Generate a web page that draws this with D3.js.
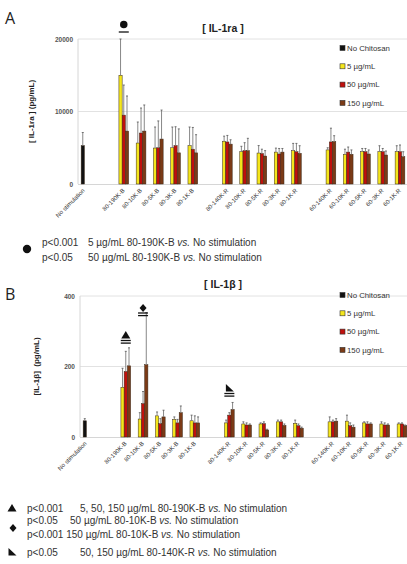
<!DOCTYPE html>
<html>
<head>
<meta charset="utf-8">
<script src="https://cdn.jsdelivr.net/npm/d3@7"></script>
<style>
  body { margin: 0; background: #fff; }
  svg { display: block; font-family: "Liberation Sans", Arial, sans-serif; }
</style>
</head>
<body>
<div id="chart"></div>
<script>
// categories, blanks are the gaps between the treatment blocks
var categories = ['No stimulation', 'gap1',
  '80-190K-B', '80-10K-B', '80-5K-B', '80-3K-B', '80-1K-B', 'gap2',
  '80-140K-R', '80-10K-R', '80-5K-R', '80-3K-R', '80-1K-R', 'gap3',
  '60-140K-R', '60-10K-R', '60-5K-R', '60-3K-R', '60-1K-R'];
var treated = categories.filter(function(c) { return c !== 'No stimulation' && c.indexOf('gap') !== 0; });
var series = ['No Chitosan', '5 µg/mL', '50 µg/mL', '150 µg/mL'];
var colors = ['#111111', '#f4e61c', '#c0100c', '#7b3a16'];

// IL-1ra (pg/mL), mean and upper SD, order = treated
var raNoStim = 5300, raNoStimSd = 1800;
var ra5    = [15000, 5650, 4960, 5000, 5300, 5900, 4450, 4270, 4400, 4600, 4700, 4100, 4460, 4460, 4460];
var ra5Sd  = [5000, 2900, 2900, 2860, 2560, 700, 750, 1030, 550, 1000, 300, 700, 440, 820, 820];
var ra50   = [9500, 7030, 5000, 5300, 4800, 5800, 4600, 4200, 4140, 4450, 5800, 4400, 4460, 4460, 4460];
var ra50Sd = [4150, 3450, 3700, 2600, 3000, 900, 1100, 600, 760, 1150, 1900, 700, 440, 440, 920];
var ra150  = [7300, 7300, 6200, 4300, 4300, 5500, 4600, 3860, 4400, 4230, 5850, 4100, 4140, 4000, 3770];
var ra150Sd= [4840, 3600, 4000, 3300, 2500, 600, 1700, 740, 500, 1050, 810, 600, 560, 550, 680];
var raTicks = [0, 10000, 20000];

// IL-1beta (pg/mL)
var bNoStim = 46, bNoStimSd = 6;
var b5    = [141, 51, 60, 50, 46, 40, 37, 37, 43, 39, 43, 45, 40, 37, 37];
var b5Sd  = [54, 18, 11, 7, 16, 8, 6, 3, 5, 9, 14, 17, 3, 6, 3];
var b50   = [186, 95, 38, 40, 40, 62, 34, 38, 43, 32, 43, 32, 37, 34, 37];
var b50Sd = [57, 34, 14, 10, 20, 7, 6, 5, 5, 5, 5, 8, 6, 6, 3];
var b150  = [202, 205, 57, 69, 40, 78, 34, 20, 33, 25, 45, 28, 37, 34, 32];
var b150Sd= [51, 148, 19, 19, 17, 20, 3, 2, 4, 3, 7, 6, 3, 3, 2];
var bTicks = [0, 200, 400];

var W = 407, H = 564;
var svg = d3.select('#chart').append('svg').attr('width', W).attr('height', H);

function buildRows(noStim, noStimSd, s5, s5Sd, s50, s50Sd, s150, s150Sd) {
  var rows = [{cat: 'No stimulation', s: 0, v: noStim, sd: noStimSd}];
  treated.forEach(function(c, i) {
    rows.push({cat: c, s: 1, v: s5[i], sd: s5Sd[i]});
    rows.push({cat: c, s: 2, v: s50[i], sd: s50Sd[i]});
    rows.push({cat: c, s: 3, v: s150[i], sd: s150Sd[i]});
  });
  return rows;
}

function drawPanel(o) {
  var g = svg.append('g');
  var x = d3.scaleBand().domain(categories).range([o.left, o.left + 328]).paddingInner(0.25).paddingOuter(0.125);
  var xs = d3.scaleBand().domain(d3.range(4)).range([0, x.bandwidth()]);
  var y = d3.scaleLinear().domain([0, o.max]).range([o.bottom, o.top]);

  // gridlines
  g.selectAll('.grid').data(o.ticks.slice(1)).enter().append('line')
    .attr('x1', o.left - 1).attr('x2', W)
    .attr('y1', function(d) { return y(d); }).attr('y2', function(d) { return y(d); })
    .attr('stroke', '#e2e2e2').attr('stroke-width', 1);
  g.append('line').attr('x1', o.left - 1).attr('x2', o.left - 1).attr('y1', o.top).attr('y2', o.bottom)
    .attr('stroke', '#d6d6d6');
  g.append('line').attr('x1', o.left - 1).attr('x2', W).attr('y1', o.bottom + 0.5).attr('y2', o.bottom + 0.5)
    .attr('stroke', '#d6d6d6');

  g.selectAll('.ytick').data(o.ticks).enter().append('text')
    .attr('x', o.left - 6).attr('y', function(d) { return y(d) + 2.5; })
    .attr('text-anchor', 'end').attr('font-size', 6.5).attr('font-weight', 'bold').attr('fill', '#555')
    .text(function(d) { return d; });

  var rows = buildRows.apply(null, o.data);
  var bx = function(d) { return x(d.cat) + xs(d.s); };

  g.selectAll('.bar').data(rows).enter().append('rect')
    .attr('x', bx).attr('width', xs.bandwidth())
    .attr('y', function(d) { return y(d.v); })
    .attr('height', function(d) { return o.bottom - y(d.v); })
    .attr('fill', function(d) { return colors[d.s]; })
    .attr('stroke', '#3a2a1a').attr('stroke-width', 0.5);

  g.selectAll('.err').data(rows).enter().append('line')
    .attr('x1', function(d) { return bx(d) + xs.bandwidth() / 2; })
    .attr('x2', function(d) { return bx(d) + xs.bandwidth() / 2; })
    .attr('y1', function(d) { return y(d.v); })
    .attr('y2', function(d) { return y(d.v + d.sd); })
    .attr('stroke', '#7a7a7a').attr('stroke-width', 0.9);
  g.selectAll('.cap').data(rows).enter().append('line')
    .attr('x1', function(d) { return bx(d) + xs.bandwidth() / 2 - 1; })
    .attr('x2', function(d) { return bx(d) + xs.bandwidth() / 2 + 1; })
    .attr('y1', function(d) { return y(d.v + d.sd); })
    .attr('y2', function(d) { return y(d.v + d.sd); })
    .attr('stroke', '#555').attr('stroke-width', 0.8);

  // category labels
  g.selectAll('.xl').data(categories.filter(function(c) { return c.indexOf('gap') !== 0; })).enter()
    .append('text')
    .attr('transform', function(c) {
      var cx = c === 'No stimulation' ? x(c) + xs(0) + 4 : x(c) + x.bandwidth() / 2 + 3;
      return 'translate(' + cx + ',' + (o.bottom + 7) + ') rotate(-45)';
    })
    .attr('text-anchor', 'end').attr('font-size', 6).attr('fill', '#333')
    .text(function(c) { return c; });

  // titles
  g.append('text').attr('x', 223).attr('y', o.titleY).attr('text-anchor', 'middle')
    .attr('font-size', 10.5).attr('font-weight', 'bold').attr('fill', '#222').text(o.title);
  g.append('text').attr('x', 5).attr('y', o.letterY).attr('font-size', 16).attr('fill', '#222')
    .attr('font-family', '"Open Sans", sans-serif').text(o.letter);
  g.append('text')
    .attr('transform', 'translate(' + o.yTitleX + ',' + ((o.top + o.bottom) / 2) + ') rotate(-90)')
    .attr('text-anchor', 'middle').attr('font-size', 8).attr('font-weight', 'bold').attr('fill', '#222')
    .attr('xml:space', 'preserve').text(o.yTitle);

  // legend
  var lg = g.append('g').attr('transform', 'translate(340,' + o.legendY + ')');
  series.forEach(function(s, i) {
    lg.append('rect').attr('x', 0).attr('y', i * o.legendStep - 2.5).attr('width', 5).attr('height', 5)
      .attr('fill', colors[i]).attr('stroke', '#333').attr('stroke-width', 0.6);
    lg.append('text').attr('x', 7).attr('y', i * o.legendStep + 2.8).attr('font-size', 7.8).attr('fill', '#333').text(s);
  });

  return {x: x, xs: xs, y: y, groupCenter: function(c) { return x(c) + xs(1) + xs.bandwidth() * 1.5; }};
}

var A = drawPanel({
  left: 79, top: 39, bottom: 184, max: 20000, ticks: raTicks,
  data: [raNoStim, raNoStimSd, ra5, ra5Sd, ra50, ra50Sd, ra150, ra150Sd],
  title: '[ IL-1ra ]', titleY: 32, letter: 'A', letterY: 24, yTitle: '[ IL-1ra ] (pg/mL)', yTitleX: 34,
  legendY: 48, legendStep: 18.3
});
var B = drawPanel({
  left: 81, top: 296, bottom: 437, max: 400, ticks: bTicks,
  data: [bNoStim, bNoStimSd, b5, b5Sd, b50, b50Sd, b150, b150Sd],
  title: '[ IL-1β ]', titleY: 288, letter: 'B', letterY: 300, yTitle: '[IL-1β]  (pg/mL)', yTitleX: 39,
  legendY: 295, legendStep: 18.3
});

function underline(cx, yy, n) {
  for (var i = 0; i < n; i++) {
    svg.append('line').attr('x1', cx - 5).attr('x2', cx + 5)
      .attr('y1', yy + i * 2.6).attr('y2', yy + i * 2.6).attr('stroke', '#111').attr('stroke-width', 1.3);
  }
}
var sym = {
  circle: function(cx, cy, s) { return d3.symbol().type(d3.symbolCircle).size(s)(); },
  tri: function() { return 'M0,-4L4.5,3.5L-4.5,3.5Z'; },
  diamond: function() { return 'M0,-4L3.5,0L0,4L-3.5,0Z'; },
  corner: function() { return 'M-3.5,-4L4.5,3.5L-3.5,3.5Z'; }
};
function mark(path, cx, cy) {
  svg.append('path').attr('d', path).attr('transform', 'translate(' + cx + ',' + cy + ')').attr('fill', '#111');
}

// significance marks over the bars
var c1 = A.groupCenter('80-190K-B');
mark(sym.circle(0, 0, 44), c1, 24.5);
underline(c1, 32, 1);

var c2 = B.groupCenter('80-190K-B');
mark(sym.tri(), c2, 335);
underline(c2, 340.5, 2);
var c3 = B.groupCenter('80-10K-B');
mark(sym.diamond(), c3, 308);
underline(c3, 313, 2);
var c4 = B.groupCenter('80-140K-R');
mark(sym.corner(), c4, 388);
underline(c4, 393.5, 2);

// footnotes
function note(xp, yb, parts) {
  var t = svg.append('text').attr('x', xp).attr('y', yb).attr('font-size', 10).attr('fill', '#333');
  parts.forEach(function(p) {
    t.append('tspan').attr('font-style', p.it ? 'italic' : 'normal').text(p.t);
  });
}
mark(sym.circle(0, 0, 55), 27, 249);
note(42, 246, [{t: 'p<0.001'}]);
note(88, 246, [{t: '5 µg/mL 80-190K-B '}, {t: 'vs.', it: true}, {t: ' No stimulation'}]);
note(42, 261, [{t: 'p<0.05'}]);
note(88, 261, [{t: '50 µg/mL 80-190K-B '}, {t: 'vs.', it: true}, {t: ' No stimulation'}]);

mark(sym.tri(), 12, 508);
note(27, 512, [{t: 'p<0.001'}]);
note(80, 512, [{t: '5, 50, 150 µg/mL 80-190K-B '}, {t: 'vs.', it: true}, {t: ' No stimulation'}]);
mark(sym.diamond(), 13, 528);
note(27, 524, [{t: 'p<0.05'}]);
note(70, 524, [{t: '50 µg/mL 80-10K-B '}, {t: 'vs.', it: true}, {t: ' No stimulation'}]);
note(27, 538, [{t: 'p<0.001 150 µg/mL 80-10K-B '}, {t: 'vs.', it: true}, {t: ' No stimulation'}]);
mark(sym.corner(), 12, 552);
note(27, 556, [{t: 'p<0.05'}]);
note(80, 556, [{t: '50, 150 µg/mL 80-140K-R '}, {t: 'vs.', it: true}, {t: ' No stimulation'}]);
</script>
</body>
</html>
